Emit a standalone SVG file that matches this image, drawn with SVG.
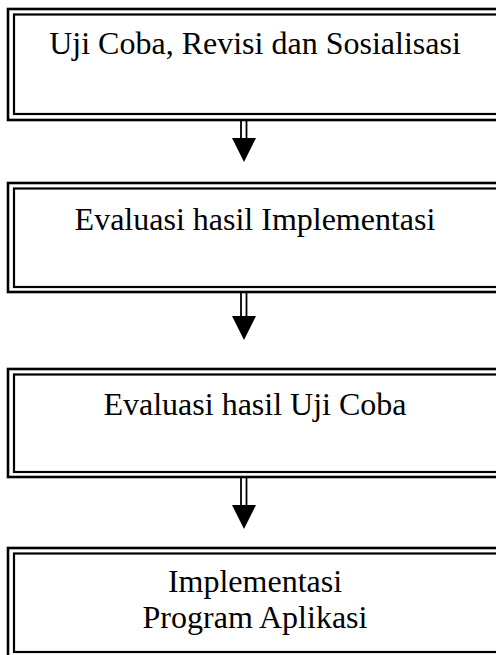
<svg xmlns="http://www.w3.org/2000/svg" width="496" height="655" viewBox="0 0 496 655">
<style>
.outer{fill:none;stroke:#000;stroke-width:2.6}
.inner{fill:none;stroke:#000;stroke-width:2.2}
.lbl{font-family:"Liberation Serif","Times New Roman",serif;font-size:32px;fill:#000;text-anchor:middle}
.shaft{stroke:#000;stroke-width:1.8;fill:none}
.head{fill:#000}
</style>
<rect width="496" height="655" fill="#fff"/>
<g id="node1">
<rect class="outer" x="8" y="9" width="500" height="111"/>
<rect class="inner" x="14" y="14.5" width="490" height="99.5"/>
<text class="lbl" x="255" y="54">Uji Coba, Revisi dan Sosialisasi</text>
</g>
<g id="node2">
<rect class="outer" x="8" y="183" width="500" height="109"/>
<rect class="inner" x="14" y="188.5" width="490" height="98.5"/>
<text class="lbl" x="255" y="230">Evaluasi hasil Implementasi</text>
</g>
<g id="node3">
<rect class="outer" x="8" y="369" width="500" height="108"/>
<rect class="inner" x="14" y="374.5" width="490" height="97.5"/>
<text class="lbl" x="255" y="415">Evaluasi hasil Uji Coba</text>
</g>
<g id="node4">
<rect class="outer" x="8" y="548" width="500" height="115"/>
<rect class="inner" x="14" y="553.5" width="490" height="98.5"/>
<text class="lbl" x="255" y="592">Implementasi</text>
<text class="lbl" x="255" y="628">Program Aplikasi</text>
</g>
<g id="connectors">
<line class="shaft" x1="241" y1="120" x2="241" y2="140"/>
<line class="shaft" x1="246.5" y1="120" x2="246.5" y2="140"/>
<polygon class="head" points="232,138 256,138 244,162"/>
<line class="shaft" x1="241" y1="292" x2="241" y2="318"/>
<line class="shaft" x1="246.5" y1="292" x2="246.5" y2="318"/>
<polygon class="head" points="232,316 256,316 244,340"/>
<line class="shaft" x1="241" y1="477" x2="241" y2="506"/>
<line class="shaft" x1="246.5" y1="477" x2="246.5" y2="506"/>
<polygon class="head" points="232,505 256,505 244,529"/>
</g>
</svg>
